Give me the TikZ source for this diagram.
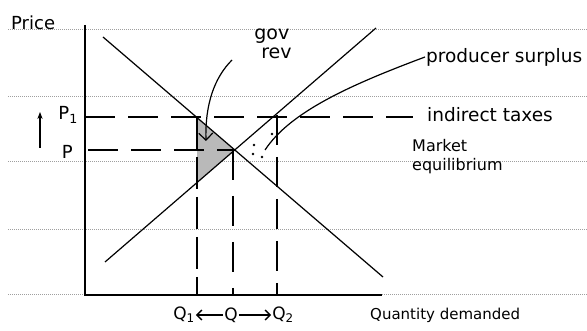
\documentclass[tikz,border=0pt]{standalone}
\usepackage{fontspec}
\setmainfont{DejaVu Sans}
\usepackage{xcolor}
\usepackage{tikz}
\usetikzlibrary{arrows.meta,calc,positioning}

\begin{document}
\begin{tikzpicture}[x=1pt,y=-1pt,
  ruled/.style={gray!75,densely dotted,line width=1pt},
  curve/.style={line width=1.2pt},
  guide/.style={line width=1.5pt,dash pattern=on 30pt off 13pt},
  lbl/.style={font=\fontsize{17}{20}\selectfont,inner sep=1pt}]
  \useasboundingbox (0,0) rectangle (587,331);
  % lined paper
  \foreach \y in {30,97,162,230,295}
    \draw[ruled] (8,\y) -- (587,\y);
  % tax wedge (gov rev)
  \fill[gray!55] (197,117.5) -- (235,150) -- (197,183) -- cycle;
  % axes
  \coordinate (O) at (85,295);
  \draw[line width=1.8pt] (85,25) -- (O) -- (382,295);
  \node[lbl,font=\fontsize{18}{20}\selectfont,anchor=south west] (price) at (10,31) {Price};
  % demand and supply
  \coordinate (D1) at (103,37);
  \coordinate (D2) at (383,277);
  \coordinate (S1) at (105,262);
  \coordinate (S2) at (376,28);
  \coordinate (E) at (235,150);
  \draw[curve] (D1) -- (D2);
  \draw[curve] (S1) -- (S2);
  % price lines
  \draw[guide] (85,117) -- (413,117);
  \draw[guide] (88,150) -- (E);
  \node[lbl,font=\fontsize{18}{20}\selectfont,anchor=east] (p1) at (79,115) {P\textsubscript{1}};
  \node[lbl,font=\fontsize{18}{20}\selectfont,anchor=east] (p) at (74,152) {P};
  \draw[line width=1.4pt,-{Stealth[length=7pt]}] (40,148) -- (40,112);
  % quantity lines
  \draw[line width=1.3pt,dash pattern=on 32pt off 8pt] (197,117) -- (197,295);
  \draw[line width=2pt,dash pattern=on 30pt off 16pt] (233,150) -- (233,295);
  \draw[line width=1.3pt,dash pattern=on 30pt off 12pt] (277,115) -- (277,295);
  \node[lbl] (q1) at (184,315) {Q\textsubscript{1}};
  \node[lbl] (q) at (231,315) {Q};
  \node[lbl] (q2) at (283,315) {Q\textsubscript{2}};
  \draw[line width=1.4pt,-{Straight Barb[length=5pt]}] (q) -- (q1);
  \draw[line width=1.4pt,-{Straight Barb[length=5pt]}] (q) -- (q2);
  \node[lbl,font=\fontsize{15}{18}\selectfont,anchor=west] (qty) at (369,315) {Quantity demanded};
  % gov rev
  \node[lbl,font=\fontsize{19}{19}\selectfont,align=left] (govrev) at (273,44) {gov\\\hspace{7pt}rev};
  \coordinate (revtip) at (206,141);
  \draw[curve,-{Straight Barb[length=7pt]}] (232,60) .. controls (214,78) and (205,105) .. (revtip);
  % producer surplus
  \foreach \pt in {(254,145),(253,154),(272,134),(262,157)}
    \fill \pt circle (1.3pt);
  \node[lbl,font=\fontsize{18.5}{22}\selectfont,anchor=west] (ps) at (425,57) {producer surplus};
  \coordinate (psend) at (265,150);
  \draw[curve] (ps.west) .. controls (350,85) and (290,112) .. (psend);
  % annotations
  \node[lbl,font=\fontsize{18.5}{22}\selectfont,anchor=west] (tax) at (426,115) {indirect taxes};
  \node[lbl,font=\fontsize{16}{19}\selectfont,anchor=west,align=left] (mkt) at (411,157) {Market\\equilibrium};
\end{tikzpicture}
\end{document}
